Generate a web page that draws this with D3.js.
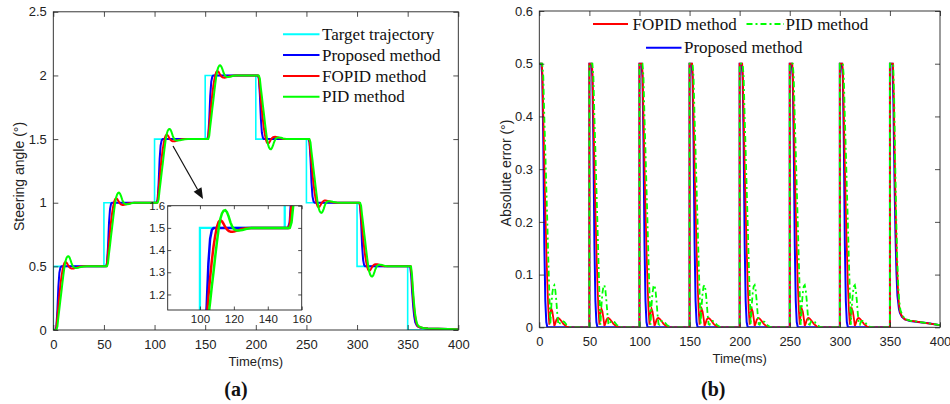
<!DOCTYPE html>
<html>
<head>
<meta charset="utf-8">
<script src="https://cdn.jsdelivr.net/npm/d3@7/dist/d3.min.js"></script>
<style>
  body { margin: 0; background: #fff; }
  svg { display: block; }
  .tick text { font-family: "Liberation Sans", Arial, sans-serif; fill: #222; }
</style>
</head>
<body>
<svg id="fig" width="950" height="404"></svg>
<script>
// ---- data -------------------------------------------------------------
const stepTimes = [0, 50, 100, 150, 200, 250, 300, 350];
const targetLevels = [0.5, 1, 1.5, 2, 1.5, 1, 0.5, 0];
const endTime = 400;

// fraction of each 0.5° step completed, vs. ms after the step command
const proposedRise = [[0,0],[2,0],[3,0.05],[4,0.3],[5,0.68],[6,0.9],[7,0.98],[8,1],[50,1]];
const fopidRise = [[0,0],[2.5,0],[3,0.03],[4,0.2],[5,0.38],[6,0.55],[7,0.7],[8,0.83],[9,0.93],[10,1.01],
  [11,1.055],[12,1.07],[13,1.06],[14,1.035],[15,1.005],[16,0.985],[17,0.972],[18,0.966],[19,0.965],
  [20,0.967],[22,0.976],[24,0.987],[27,0.997],[30,1],[50,1]];
const pidRise = [[0,0],[3,0],[4,0.05],[5,0.2],[6,0.33],[7,0.47],[8,0.6],[9,0.74],[10,0.87],[11,0.99],
  [12,1.08],[13,1.13],[14,1.155],[15,1.16],[16,1.14],[17,1.1],[18,1.05],[19,1.012],[20,0.99],[21,0.98],
  [22,0.976],[23,0.976],[25,0.98],[27,0.99],[30,0.998],[33,1],[50,1]];

// the last step back to zero settles with a long tail
const proposedFinal = [[0,0],[2.5,0],[3.5,0.15],[4.5,0.42],[5.5,0.64],[6.5,0.79],[7.5,0.88],[9,0.93],
  [10,0.945],[12,0.96],[15,0.97],[20,0.976],[30,0.981],[40,0.986],[50,0.992]];
const fopidFinal = [[0,0],[3,0],[4,0.15],[5,0.4],[6,0.6],[7,0.75],[8,0.85],[9,0.91],[10,0.94],
  [12,0.958],[15,0.97],[20,0.975],[30,0.98],[40,0.986],[50,0.992]];
const pidFinal = [[0,0],[3.3,0],[4.3,0.14],[5.3,0.38],[6.3,0.58],[7.3,0.74],[8.3,0.84],[9.3,0.9],
  [10.5,0.935],[12.5,0.955],[15,0.968],[20,0.975],[30,0.98],[40,0.986],[50,0.992]];

const legendLeft = ["Target trajectory", "Proposed method", "FOPID method", "PID method"];
const colors = { target: "#00ffff", proposed: "#0000ff", fopid: "#ff0000", pid: "#00ff00" };

const yTicksA = [0, 0.5, 1, 1.5, 2, 2.5];
const yTicksB = [0, 0.1, 0.2, 0.3, 0.4, 0.5, 0.6];
const xTicks = [0, 50, 100, 150, 200, 250, 300, 350, 400];
const insetXTicks = [100, 120, 140, 160];
const insetYTicks = [1.2, 1.3, 1.4, 1.5, 1.6];

// ---- series construction ----------------------------------------------
function buildSeries(rise, finalRise) {
  const pts = [];
  stepTimes.forEach((t0, i) => {
    const from = i === 0 ? 0 : targetLevels[i - 1];
    const to = targetLevels[i];
    const prof = i === stepTimes.length - 1 ? finalRise : rise;
    prof.forEach(([tau, f]) => {
      const y = from + f * (to - from);
      pts.push({ t: t0 + tau, y: y, err: Math.abs(to - y) });
    });
  });
  return pts;
}
const proposed = buildSeries(proposedRise, proposedFinal);
const fopid = buildSeries(fopidRise, fopidFinal);
const pid = buildSeries(pidRise, pidFinal);

const target = [{ t: 0, y: 0 }];
stepTimes.forEach(t0 => target.push({ t: t0, y: targetLevels[stepTimes.indexOf(t0)] }));
target.push({ t: endTime, y: targetLevels[targetLevels.length - 1] });

// ---- drawing helpers --------------------------------------------------
const svg = d3.select("#fig");
const defs = svg.append("defs");

function frame(g, x, y, tickLen, xt, yt, fs, padX, padY) {
  const [x0, x1] = x.range(), [y0, y1] = y.range();
  const fmt = d3.format("~g");
  const axB = g.append("g").attr("transform", `translate(0,${y0})`)
    .call(d3.axisBottom(x).tickValues(xt).tickFormat(fmt).tickSizeInner(-tickLen).tickSizeOuter(0).tickPadding(padX));
  const axT = g.append("g").attr("transform", `translate(0,${y1})`)
    .call(d3.axisTop(x).tickValues(xt).tickFormat("").tickSizeInner(-tickLen).tickSizeOuter(0));
  const axL = g.append("g").attr("transform", `translate(${x0},0)`)
    .call(d3.axisLeft(y).tickValues(yt).tickFormat(fmt).tickSizeInner(-tickLen).tickSizeOuter(0).tickPadding(padY));
  const axR = g.append("g").attr("transform", `translate(${x1},0)`)
    .call(d3.axisRight(y).tickValues(yt).tickFormat("").tickSizeInner(-tickLen).tickSizeOuter(0));
  [axB, axT, axL, axR].forEach(a => {
    a.select(".domain").remove();
    a.selectAll(".tick line").attr("stroke", "#222").attr("stroke-width", 0.8);
    a.selectAll(".tick text").attr("font-size", fs);
  });
  g.append("rect").attr("x", x0).attr("y", y1).attr("width", x1 - x0).attr("height", y0 - y1)
    .attr("fill", "none").attr("stroke", "#222").attr("stroke-width", 0.9);
}

function clip(id, x, y) {
  const [x0, x1] = x.range(), [y0, y1] = y.range();
  defs.append("clipPath").attr("id", id).append("rect")
    .attr("x", x0).attr("y", y1).attr("width", x1 - x0).attr("height", y0 - y1);
}

// ---- panel (a): steering angle ----------------------------------------
const xA = d3.scaleLinear().domain([0, 400]).range([53.3, 458.3]);
const yA = d3.scaleLinear().domain([0, 2.5]).range([330, 11.8]);
clip("clipA", xA, yA);
const gA = svg.append("g");
const plotA = gA.append("g").attr("clip-path", "url(#clipA)");

function drawAngles(g, x, y, w, wt) {
  const lineY = d3.line().x(d => x(d.t)).y(d => y(d.y));
  const stepLine = d3.line().x(d => x(d.t)).y(d => y(d.y)).curve(d3.curveStepAfter);
  g.append("path").datum(target).attr("d", stepLine).attr("fill", "none")
    .attr("stroke", colors.target).attr("stroke-width", wt);
  [[proposed, colors.proposed], [fopid, colors.fopid], [pid, colors.pid]].forEach(([s, c]) => {
    g.append("path").datum(s).attr("d", lineY).attr("fill", "none")
      .attr("stroke", c).attr("stroke-width", w).attr("stroke-linejoin", "round");
  });
}
drawAngles(plotA, xA, yA, 2, 1.6);
frame(gA, xA, yA, 5, xTicks, yTicksA, 13, 9.5, 6.5);

gA.append("text").attr("x", xA(200)).attr("y", 366)
  .attr("text-anchor", "middle").attr("font-family", "Liberation Sans, Arial, sans-serif")
  .attr("font-size", 13).attr("fill", "#222").text("Time(ms)");
gA.append("text").attr("transform", "translate(23.5,176.5) rotate(-90)")
  .attr("text-anchor", "middle").attr("font-family", "Liberation Sans, Arial, sans-serif")
  .attr("font-size", 14).attr("fill", "#222").text("Steering angle (°)");

// legend (a)
const legA = gA.append("g");
const legColorsA = [colors.target, colors.proposed, colors.fopid, colors.pid];
legendLeft.forEach((name, i) => {
  const cy = 34.3 + i * 20.8;
  legA.append("line").attr("x1", 283).attr("x2", 319.5).attr("y1", cy).attr("y2", cy)
    .attr("stroke", legColorsA[i]).attr("stroke-width", 2);
  legA.append("text").attr("x", 322).attr("y", cy).attr("dy", "0.33em")
    .attr("font-family", "Liberation Serif, Times New Roman, serif").attr("font-size", 17)
    .attr("fill", "#111").text(name);
});

// zoomed inset around the 1.5° step
const xI = d3.scaleLinear().domain([81, 160]).range([167.7, 301.7]);
const yI = d3.scaleLinear().domain([1.13, 1.6]).range([310, 205.7]);
clip("clipI", xI, yI);
const gI = gA.append("g");
gI.append("rect").attr("x", 167.7).attr("y", 205.7).attr("width", 134).attr("height", 104.3).attr("fill", "#fff");
drawAngles(gI.append("g").attr("clip-path", "url(#clipI)"), xI, yI, 2.5, 2.3);
frame(gI, xI, yI, 3.5, insetXTicks, insetYTicks, 11.5, 5, 2.5);

// arrow pointing from the main curve to the inset
const arrowFrom = [173, 146], arrowTo = [203, 199];
const ang = Math.atan2(arrowTo[1] - arrowFrom[1], arrowTo[0] - arrowFrom[0]);
const headLen = 11, headW = 4.5;
const base = [arrowTo[0] - headLen * Math.cos(ang), arrowTo[1] - headLen * Math.sin(ang)];
gA.append("line").attr("x1", arrowFrom[0]).attr("y1", arrowFrom[1]).attr("x2", base[0]).attr("y2", base[1])
  .attr("stroke", "#111").attr("stroke-width", 1.2);
gA.append("path").attr("fill", "#111").attr("d", d3.line()([
  arrowTo,
  [base[0] + headW * Math.sin(ang), base[1] - headW * Math.cos(ang)],
  [base[0] - headW * Math.sin(ang), base[1] + headW * Math.cos(ang)]
]) + "Z");

gA.append("text").attr("x", 236).attr("y", 396).attr("text-anchor", "middle")
  .attr("font-family", "Liberation Serif, Times New Roman, serif").attr("font-weight", "bold")
  .attr("font-size", 20).attr("fill", "#111").text("(a)");

// ---- panel (b): absolute error ----------------------------------------
const xB = d3.scaleLinear().domain([0, 400]).range([539.3, 940]);
const yB = d3.scaleLinear().domain([0, 0.6]).range([327.3, 11]);
clip("clipB", xB, yB);
const gB = svg.append("g");
const plotB = gB.append("g").attr("clip-path", "url(#clipB)");
const lineE = d3.line().x(d => xB(d.t)).y(d => yB(d.err));
plotB.append("path").datum(proposed).attr("d", lineE).attr("fill", "none")
  .attr("stroke", colors.proposed).attr("stroke-width", 2);
plotB.append("path").datum(fopid).attr("d", lineE).attr("fill", "none")
  .attr("stroke", colors.fopid).attr("stroke-width", 1.8);
plotB.append("path").datum(pid).attr("d", lineE).attr("fill", "none")
  .attr("stroke", colors.pid).attr("stroke-width", 1.8).attr("stroke-dasharray", "6,3,2,3");
frame(gB, xB, yB, 5, xTicks, yTicksB, 13, 9.5, 6.3);

gB.append("text").attr("x", xB(200)).attr("y", 363)
  .attr("text-anchor", "middle").attr("font-family", "Liberation Sans, Arial, sans-serif")
  .attr("font-size", 13).attr("fill", "#222").text("Time(ms)");
gB.append("text").attr("transform", "translate(510.5,173) rotate(-90)")
  .attr("text-anchor", "middle").attr("font-family", "Liberation Sans, Arial, sans-serif")
  .attr("font-size", 14).attr("fill", "#222").text("Absolute error (°)");

// legend (b): two rows
const legB = [
  { name: "FOPID method", color: colors.fopid, dash: null, x1: 593, x2: 628, tx: 632.5, cy: 24 },
  { name: "PID method", color: colors.pid, dash: "6,3,2,3", x1: 746.5, x2: 784, tx: 785.5, cy: 24 },
  { name: "Proposed method", color: colors.proposed, dash: null, x1: 646, x2: 681.5, tx: 684, cy: 47.7 }
];
legB.forEach(d => {
  gB.append("line").attr("x1", d.x1).attr("x2", d.x2).attr("y1", d.cy).attr("y2", d.cy)
    .attr("stroke", d.color).attr("stroke-width", 2).attr("stroke-dasharray", d.dash);
  gB.append("text").attr("x", d.tx).attr("y", d.cy).attr("dy", "0.33em")
    .attr("font-family", "Liberation Serif, Times New Roman, serif").attr("font-size", 17)
    .attr("fill", "#111").text(d.name);
});

gB.append("text").attr("x", 713.3).attr("y", 396).attr("text-anchor", "middle")
  .attr("font-family", "Liberation Serif, Times New Roman, serif").attr("font-weight", "bold")
  .attr("font-size", 20).attr("fill", "#111").text("(b)");
</script>
</body>
</html>
